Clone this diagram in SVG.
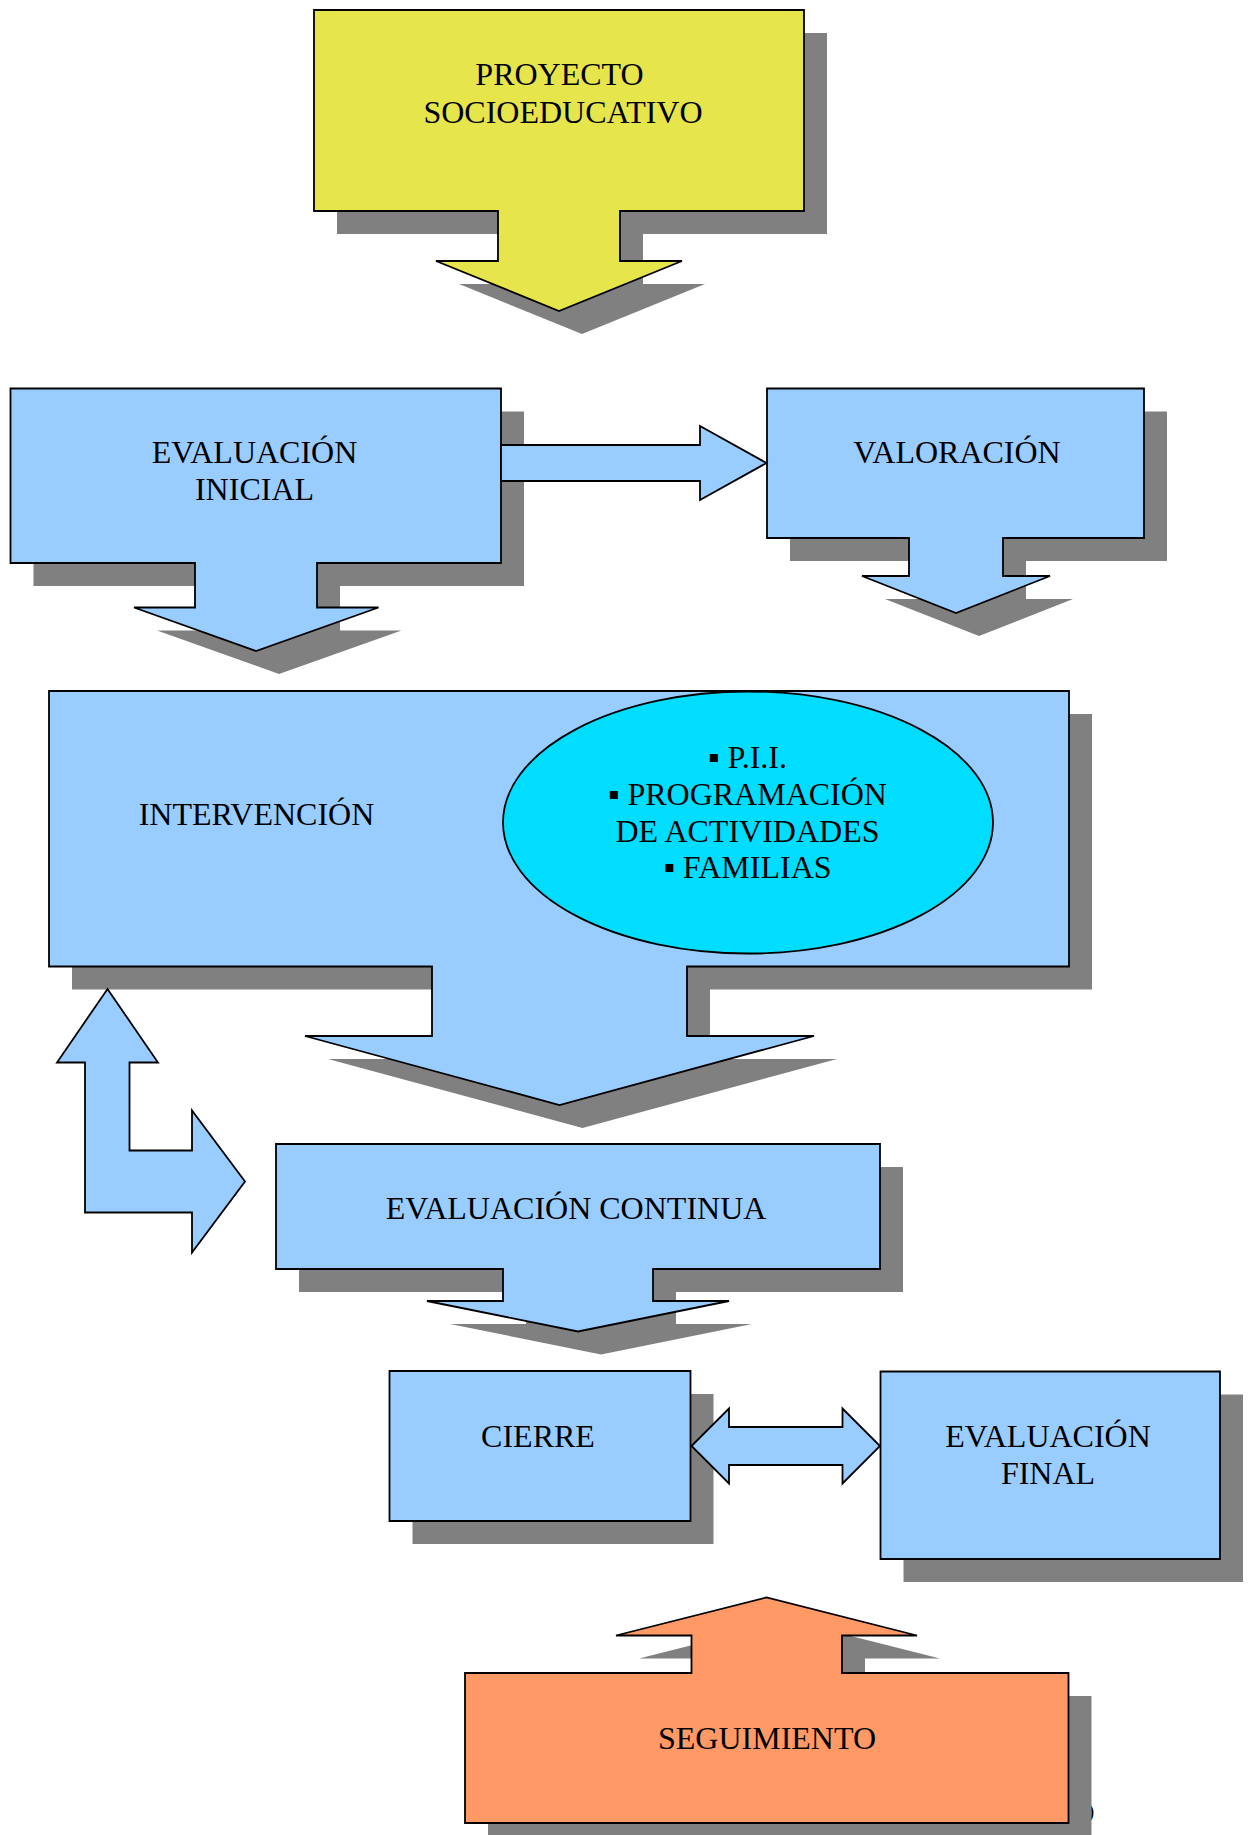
<svg xmlns="http://www.w3.org/2000/svg" width="1252" height="1835" viewBox="0 0 1252 1835">
<style>
.sh{fill:#808080;stroke:none}
.sb{stroke:#000;stroke-width:1.8;stroke-linejoin:miter}
.blue{fill:#99CCFF}
.yel{fill:#E6E64C}
.org{fill:#FF9966}
.cyan{fill:#00DDFF}
text{font-family:"Liberation Serif","Times New Roman","DejaVu Serif",serif;font-size:32px;fill:#000;text-anchor:middle}
</style>
<rect width="1252" height="1835" fill="#fff"/>
<defs>
<path id="pYel" d="M314,10 H804 V211 H620 V261 H682 L559,311 L436,261 H498 V211 H314 Z"/>
<path id="pIni" d="M10.5,388.5 H501 V563 H317 V607.5 H378.5 L256,651 L134,607.5 H195 V563 H10.5 Z"/>
<path id="pVal" d="M767,388.5 H1144 V538 H1003 V576 H1050 L956,613 L862,576 H909 V538 H767 Z"/>
<path id="pInt" d="M49,691 H1069 V966.5 H687 V1036 H814 L559.5,1105 L305,1036 H432 V966.5 H49 Z"/>
<path id="pCon" d="M276,1144 H880 V1269 H653 V1301 H729 L578,1331.5 L427,1301 H503 V1269 H276 Z"/>
<path id="pCie" d="M389.5,1371 H690.5 V1521 H389.5 Z"/>
<path id="pFin" d="M880.5,1371.5 H1220 V1559 H880.5 Z"/>
<path id="pSeg" d="M465,1673 H691.5 V1635.5 H616 L766.5,1597.5 L917,1635.5 H842 V1673 H1068.5 V1823 H465 Z"/>
</defs>

<g id="proyecto">
<use href="#pYel" class="sh" transform="translate(23,23)"/>
<use href="#pYel" class="yel sb"/>
<text x="559.5" y="85">PROYECTO</text>
<text x="563" y="123">SOCIOEDUCATIVO</text>
</g>

<g id="evaluacion-inicial">
<use href="#pIni" class="sh" transform="translate(23,23)"/>
<use href="#pIni" class="blue sb"/>
<text x="254.5" y="463">EVALUACIÓN</text>
<text x="254.5" y="500">INICIAL</text>
</g>

<g id="valoracion">
<use href="#pVal" class="sh" transform="translate(23,23)"/>
<use href="#pVal" class="blue sb"/>
<text x="957" y="463">VALORACIÓN</text>
</g>

<g id="intervencion">
<use href="#pInt" class="sh" transform="translate(23,23)"/>
<use href="#pInt" class="blue sb"/>
<text x="256.5" y="825">INTERVENCIÓN</text>
<ellipse cx="748" cy="822.5" rx="245" ry="131" class="cyan sb"/>
<text x="747.5" y="767.5">▪ P.I.I.</text>
<text x="747.5" y="805">▪ PROGRAMACIÓN</text>
<text x="747.5" y="841.5">DE ACTIVIDADES</text>
<text x="747.5" y="878">▪ FAMILIAS</text>
</g>

<g id="evaluacion-continua">
<use href="#pCon" class="sh" transform="translate(23,23)"/>
<use href="#pCon" class="blue sb"/>
<text x="576" y="1219">EVALUACIÓN CONTINUA</text>
</g>

<g id="cierre">
<use href="#pCie" class="sh" transform="translate(23,23)"/>
<use href="#pCie" class="blue sb"/>
<text x="538" y="1447">CIERRE</text>
</g>

<g id="evaluacion-final">
<use href="#pFin" class="sh" transform="translate(23,23)"/>
<use href="#pFin" class="blue sb"/>
<text x="1048" y="1447">EVALUACIÓN</text>
<text x="1048" y="1484">FINAL</text>
</g>

<g id="seguimiento">
<text x="1087" y="1818" style="font-size:22px;text-anchor:start">)</text>
<use href="#pSeg" class="sh" transform="translate(23,23)"/>
<use href="#pSeg" class="org sb"/>
<text x="767" y="1749">SEGUIMIENTO</text>
</g>

<g id="connectors">
<path class="blue sb" d="M501,445 H700 V426 L766.5,463 L700,500 V481 H501 Z"/>
<path class="blue sb" d="M107.5,989 L158,1062.5 H129.5 V1150.5 H192 V1110.5 L245,1181.5 L192,1252.5 V1212.5 H85 V1062.5 H57 Z"/>
<path class="blue sb" d="M691.5,1446 L729,1408.5 V1427 H842.5 V1408.5 L880,1446 L842.5,1483.5 V1465 H729 V1483.5 Z"/>
</g>
</svg>
